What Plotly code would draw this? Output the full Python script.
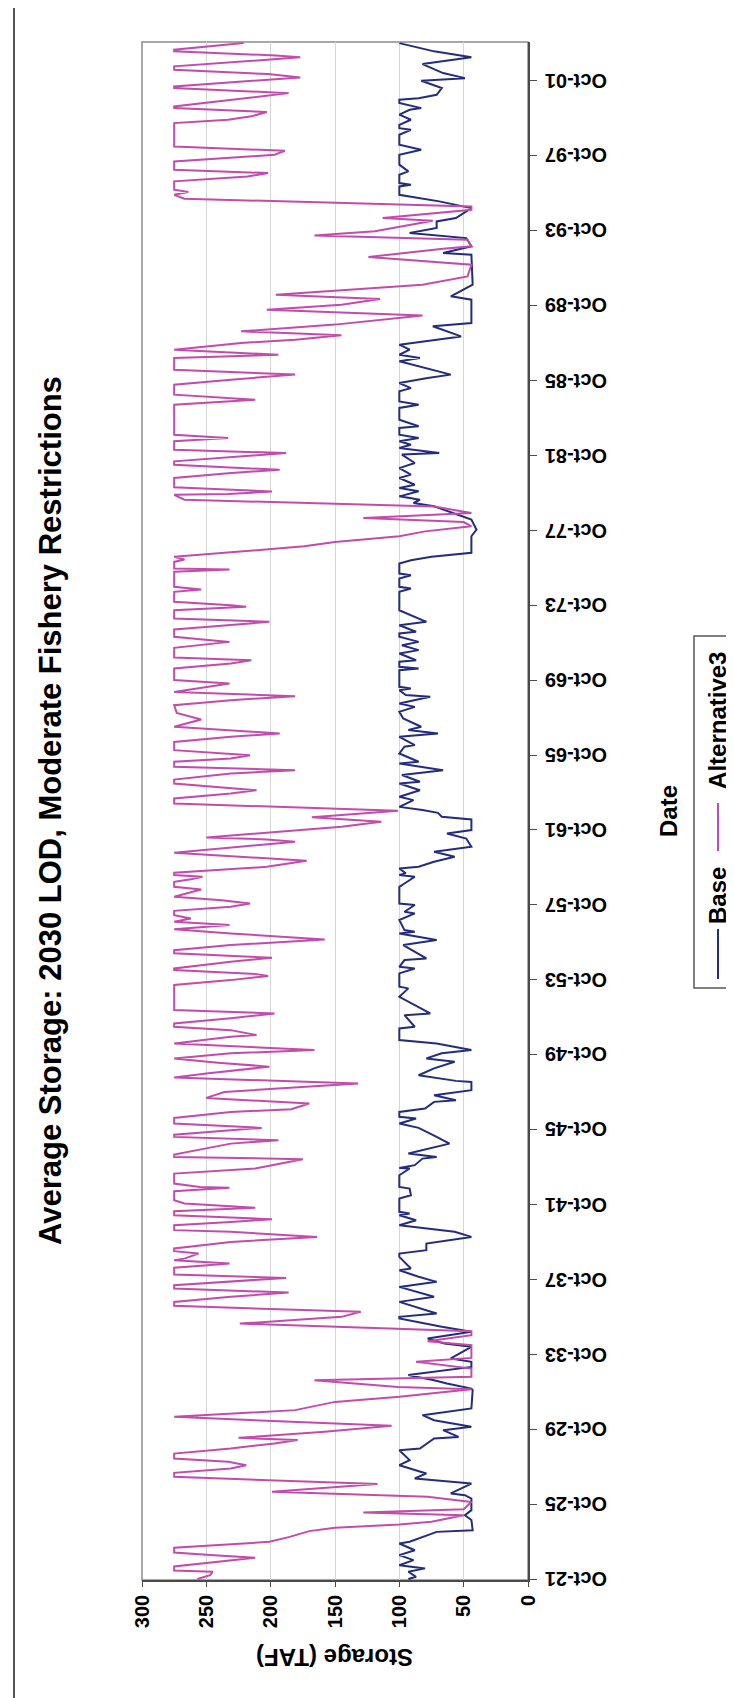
import plotly.graph_objects as go

# ---------------- data (decimal year, storage TAF) ----------------
base_t = [1921.75, 1921.87, 1922.14, 1922.32, 1922.49, 1922.76, 1923.03, 1923.29, 1923.65, 1923.74,
          1924.27, 1924.36, 1924.90, 1925.16, 1925.43, 1926.05, 1926.23, 1926.32, 1926.85, 1927.12,
          1927.39, 1927.83, 1928.10, 1928.63, 1928.72, 1929.26, 1929.34, 1929.70, 1929.88, 1930.23,
          1930.50, 1930.86, 1931.84, 1931.92, 1932.19, 1932.37, 1932.64, 1933.08, 1933.35, 1933.53,
          1934.15, 1934.33, 1934.59, 1934.95, 1935.22, 1935.66, 1935.75, 1935.93, 1936.55, 1936.82,
          1937.35, 1937.62, 1937.89, 1938.24, 1938.33, 1938.95, 1939.13, 1939.31, 1939.66, 1940.02,
          1940.29, 1940.47, 1940.64, 1940.91, 1941.18, 1941.27, 1941.36, 1942.07, 1942.24, 1942.60,
          1942.69, 1943.31, 1943.67, 1943.70, 1943.85, 1944.20, 1944.29, 1944.47, 1945.00, 1945.36,
          1945.84, 1946.07, 1946.34, 1946.43, 1946.69, 1946.87, 1947.23, 1947.32, 1947.58, 1947.85,
          1948.29, 1948.35, 1948.65, 1949.02, 1949.37, 1949.55, 1949.82, 1950.00, 1950.35, 1950.53,
          1951.15, 1951.24, 1951.86, 1951.95, 1952.84, 1953.29, 1953.38, 1954.09, 1954.35, 1954.44,
          1954.80, 1954.89, 1955.60, 1955.87, 1956.22, 1956.31, 1956.40, 1956.94, 1957.29, 1957.38,
          1957.74, 1957.82, 1958.71, 1958.89, 1959.25, 1959.34, 1959.43, 1959.69, 1959.78, 1960.05,
          1960.32, 1960.58, 1960.85, 1961.29, 1961.56, 1961.74, 1962.31, 1962.45, 1962.66, 1962.81,
          1962.98, 1963.34, 1963.52, 1963.87, 1964.23, 1964.32, 1964.68, 1964.94, 1965.30, 1965.39,
          1965.83, 1966.19, 1966.28, 1966.72, 1966.90, 1967.08, 1967.26, 1967.70, 1968.06, 1968.32,
          1968.50, 1968.86, 1968.95, 1969.21, 1969.30, 1969.39, 1970.28, 1970.37, 1970.46, 1970.73,
          1970.81, 1971.17, 1971.35, 1971.61, 1971.79, 1972.06, 1972.24, 1972.33, 1972.68, 1972.86,
          1973.48, 1974.46, 1974.64, 1974.73, 1975.17, 1975.35, 1975.44, 1975.97, 1976.15, 1976.33,
          1976.55, 1977.43, 1977.78, 1978.32, 1979.03, 1979.21, 1979.38, 1979.56, 1979.83, 1980.01,
          1980.18, 1980.54, 1980.72, 1981.07, 1981.34, 1981.79, 1981.87, 1982.14, 1982.32, 1982.50,
          1982.68, 1982.85, 1983.21, 1983.30, 1983.65, 1984.28, 1984.45, 1984.63, 1985.17, 1985.34,
          1985.61, 1985.88, 1986.06, 1986.77, 1986.95, 1987.12, 1987.39, 1987.66, 1987.92, 1988.10,
          1988.64, 1988.81, 1990.06, 1990.24, 1990.86, 1991.93, 1992.46, 1992.55, 1992.91, 1993.35,
          1993.62, 1993.89, 1994.24, 1994.42, 1994.95, 1995.31, 1995.66, 1996.11, 1996.20, 1996.29,
          1996.73, 1996.91, 1997.27, 1997.80, 1998.07, 1998.33, 1998.87, 1999.13, 1999.22, 1999.40,
          1999.67, 1999.94, 2000.20, 2000.29, 2000.56, 2000.74, 2000.82, 2001.00, 2001.36, 2001.75,
          2001.89, 2002.16, 2002.64, 2003.00, 2003.32, 2003.76]
base_v = [93, 87, 93, 80, 100, 89, 100, 88, 100, 92,
          71, 43, 44, 49, 44, 44, 49, 60, 44, 88,
          79, 100, 92, 100, 84, 73, 54, 66, 44, 73,
          82, 44, 43, 44, 63, 73, 93, 44, 44, 60,
          44, 65, 78, 44, 67, 100, 100, 71, 100, 73,
          100, 71, 85, 100, 91, 100, 100, 79, 79, 44,
          57, 79, 100, 87, 100, 92, 100, 100, 91, 92,
          100, 100, 92, 100, 88, 82, 71, 93, 61, 71,
          85, 100, 87, 100, 100, 80, 73, 56, 73, 44,
          44, 56, 85, 73, 57, 79, 67, 44, 71, 100,
          100, 88, 96, 76, 100, 93, 100, 100, 88, 100,
          96, 79, 97, 71, 100, 88, 96, 100, 88, 96,
          88, 100, 100, 96, 88, 100, 95, 100, 85, 73,
          57, 73, 44, 48, 63, 44, 44, 67, 70, 82,
          100, 89, 100, 84, 100, 84, 98, 66, 100, 85,
          100, 96, 88, 100, 70, 93, 83, 97, 100, 88,
          100, 76, 95, 100, 91, 100, 100, 85, 100, 100,
          87, 100, 85, 98, 85, 100, 100, 87, 100, 79,
          100, 100, 91, 100, 100, 91, 100, 100, 91, 75,
          44, 44, 40, 44, 73, 89, 84, 100, 85, 100,
          88, 100, 91, 100, 88, 98, 69, 100, 91, 100,
          85, 100, 100, 85, 100, 100, 85, 100, 100, 91,
          100, 78, 60, 100, 84, 100, 92, 100, 73, 52,
          74, 44, 44, 60, 43, 44, 44, 66, 44, 48,
          92, 71, 71, 56, 44, 69, 100, 100, 91, 100,
          100, 93, 100, 100, 83, 100, 100, 91, 100, 100,
          91, 100, 92, 83, 100, 100, 85, 71, 67, 83,
          49, 66, 82, 44, 73, 100]

alt3_t = [1921.75, 1921.96, 1922.14, 1922.21, 1922.42, 1922.71, 1922.89, 1923.03, 1923.17, 1923.42,
          1923.74, 1923.99, 1924.31, 1924.49, 1924.66, 1924.81, 1925.16, 1925.31, 1925.48, 1925.87,
          1926.14, 1926.41, 1926.82, 1927.21, 1927.42, 1927.65, 1927.83, 1928.01, 1928.19, 1928.45,
          1928.72, 1928.99, 1929.17, 1929.29, 1929.61, 1929.93, 1930.41, 1930.77, 1931.21, 1931.48,
          1931.89, 1932.01, 1932.37, 1932.55, 1932.99, 1933.35, 1933.56, 1934.24, 1934.45, 1934.77,
          1934.98, 1935.39, 1935.75, 1936.02, 1936.34, 1936.55, 1936.82, 1937.05, 1937.26, 1937.44,
          1937.62, 1937.83, 1938.01, 1938.37, 1938.51, 1938.60, 1938.77, 1938.86, 1939.13, 1939.26,
          1939.40, 1939.75, 1940.02, 1940.29, 1940.38, 1940.64, 1940.82, 1940.96, 1941.18, 1941.39,
          1941.57, 1941.80, 1941.98, 1942.46, 1942.65, 1942.69, 1942.87, 1943.40, 1943.67, 1944.17,
          1944.29, 1944.42, 1945.00, 1945.18, 1945.36, 1945.48, 1945.71, 1945.84, 1946.07, 1946.37,
          1946.69, 1946.84, 1947.14, 1947.44, 1947.76, 1948.21, 1948.53, 1948.74, 1949.11, 1949.32,
          1949.55, 1949.82, 1950.00, 1950.21, 1950.35, 1950.71, 1950.80, 1951.06, 1951.24, 1951.42,
          1951.69, 1951.95, 1952.13, 1953.47, 1953.73, 1953.95, 1954.05, 1954.27, 1954.35, 1954.71,
          1954.92, 1955.16, 1955.33, 1955.60, 1955.90, 1956.22, 1956.44, 1956.67, 1956.85, 1957.02,
          1957.20, 1957.43, 1957.65, 1957.82, 1958.00, 1958.18, 1958.57, 1958.71, 1958.98, 1959.11,
          1959.25, 1959.34, 1959.46, 1959.78, 1960.10, 1960.53, 1961.12, 1961.24, 1961.35, 1961.92,
          1962.18, 1962.42, 1962.77, 1963.16, 1963.43, 1963.70, 1963.87, 1964.23, 1964.44, 1964.76,
          1964.94, 1965.12, 1965.39, 1965.56, 1965.74, 1966.01, 1966.45, 1966.72, 1966.90, 1967.26,
          1967.65, 1968.00, 1968.41, 1968.68, 1968.89, 1969.12, 1969.57, 1969.75, 1970.37, 1970.64,
          1970.81, 1970.96, 1971.47, 1971.79, 1972.06, 1972.45, 1972.68, 1972.86, 1973.04, 1973.48,
          1973.66, 1973.75, 1973.93, 1974.46, 1974.59, 1974.73, 1975.53, 1975.65, 1975.71, 1976.06,
          1976.19, 1976.33, 1976.89, 1977.12, 1977.43, 1977.69, 1977.96, 1978.19, 1978.40, 1978.67,
          1979.02, 1979.38, 1979.64, 1979.68, 1979.82, 1980.04, 1980.54, 1980.80, 1980.98, 1981.25,
          1981.43, 1981.65, 1981.87, 1982.05, 1982.50, 1982.68, 1982.85, 1984.45, 1984.63, 1984.72,
          1984.99, 1985.52, 1985.79, 1986.06, 1986.32, 1986.95, 1987.12, 1987.39, 1987.75, 1987.92,
          1988.16, 1988.37, 1988.73, 1989.22, 1989.53, 1989.79, 1990.10, 1990.33, 1990.86, 1991.30,
          1991.93, 1992.34, 1992.78, 1992.91, 1993.26, 1993.49, 1993.71, 1994.28, 1994.42, 1994.86,
          1995.04, 1995.45, 1995.66, 1995.81, 1995.93, 1996.38, 1996.64, 1996.82, 1997.00, 1997.44,
          1997.80, 1998.01, 1998.24, 1999.49, 1999.67, 1999.85, 2000.08, 2000.29, 2000.38, 2000.74,
          2001.09, 2001.36, 2001.45, 2001.93, 2002.11, 2002.34, 2002.52, 2003.00, 2003.10, 2003.32,
          2003.41, 2003.76]
alt3_v = [257, 247, 245, 275, 275, 233, 212, 247, 275, 275,
          201, 186, 170, 150, 100, 75, 50, 128, 50, 44,
          78, 199, 117, 275, 275, 231, 219, 233, 275, 275,
          231, 197, 179, 225, 158, 106, 275, 181, 150, 100,
          44, 101, 166, 44, 44, 87, 44, 44, 78, 44,
          44, 224, 145, 130, 275, 275, 231, 186, 275, 275,
          231, 188, 275, 275, 249, 232, 275, 267, 256, 275,
          275, 231, 164, 231, 275, 275, 231, 199, 275, 275,
          212, 267, 275, 275, 232, 255, 275, 275, 212, 175,
          275, 275, 231, 194, 275, 275, 231, 207, 275, 275,
          231, 184, 170, 250, 236, 132, 275, 250, 201, 241,
          275, 231, 166, 231, 275, 231, 211, 231, 275, 275,
          231, 197, 275, 275, 231, 202, 211, 275, 275, 231,
          199, 275, 275, 231, 158, 231, 275, 232, 275, 262,
          275, 275, 231, 216, 238, 275, 254, 275, 275, 262,
          253, 275, 275, 203, 172, 275, 181, 203, 250, 145,
          114, 168, 101, 275, 275, 231, 211, 275, 275, 231,
          181, 275, 275, 231, 216, 275, 275, 231, 193, 275,
          254, 273, 275, 231, 181, 275, 232, 275, 275, 231,
          215, 275, 275, 232, 275, 275, 231, 201, 275, 275,
          219, 231, 275, 275, 254, 275, 275, 232, 275, 275,
          267, 275, 174, 150, 100, 80, 44, 50, 128, 44,
          73, 267, 275, 233, 199, 275, 275, 233, 193, 275,
          275, 231, 188, 275, 275, 233, 275, 275, 233, 212,
          275, 275, 231, 181, 275, 275, 194, 275, 223, 181,
          145, 223, 150, 82, 203, 145, 115, 196, 82, 47,
          44, 124, 66, 44, 47, 166, 119, 74, 113, 44,
          44, 267, 275, 264, 275, 275, 218, 202, 275, 275,
          197, 189, 275, 275, 233, 215, 203, 275, 275, 228,
          186, 275, 275, 177, 202, 275, 275, 177, 196, 275,
          275, 221]

date_tick_vals = [1921.75, 1925.75, 1929.75, 1933.75, 1937.75, 1941.75, 1945.75, 1949.75, 1953.75,
                  1957.75, 1961.75, 1965.75, 1969.75, 1973.75, 1977.75, 1981.75, 1985.75, 1989.75,
                  1993.75, 1997.75, 2001.75]
date_tick_text = ["Oct-21", "Oct-25", "Oct-29", "Oct-33", "Oct-37", "Oct-41", "Oct-45", "Oct-49",
                  "Oct-53", "Oct-57", "Oct-61", "Oct-65", "Oct-69", "Oct-73", "Oct-77", "Oct-81",
                  "Oct-85", "Oct-89", "Oct-93", "Oct-97", "Oct-01"]
storage_ticks = [0, 50, 100, 150, 200, 250, 300]
series_names = ["Base", "Alternative3"]

# ---------------- styles ----------------
FONT = "Liberation Sans, Arial, sans-serif"
NAVY = "#232C7E"
MAGENTA = "#C24CAB"
AXIS = "#4a4a4a"

fig = go.Figure()
fig.add_trace(go.Scatter(x=base_v, y=base_t, mode="lines", name=series_names[0],
                         line=dict(color=NAVY, width=2)))
fig.add_trace(go.Scatter(x=alt3_v, y=alt3_t, mode="lines", name=series_names[1],
                         line=dict(color=MAGENTA, width=2)))

fig.update_layout(
    width=734, height=1698,
    margin=dict(l=134, r=214, t=34, b=126),
    paper_bgcolor="white", plot_bgcolor="white",
    showlegend=False,
    font=dict(family=FONT, color="black"),
    xaxis=dict(range=[300, 0], tickvals=storage_ticks, ticks="outside", ticklen=5,
               tickcolor=AXIS, tickangle=-90, showline=True, linecolor=AXIS, linewidth=1.5,
               showgrid=True, gridcolor="#d6d6d6", gridwidth=1, zeroline=False,
               tickfont=dict(family=FONT, size=20, weight="bold", color="black")),
    yaxis=dict(range=[1921.70, 2003.82], side="right", tickvals=date_tick_vals,
               showticklabels=False, ticks="outside", ticklen=7, tickcolor=AXIS,
               showline=True, linecolor=AXIS, linewidth=1.5, showgrid=False, zeroline=False),
)

shapes = [
    # plot area border (gray)
    dict(type="rect", xref="paper", yref="paper", x0=0, y0=0, x1=1, y1=1,
         line=dict(color="#8c8c8c", width=1.5), layer="below"),
    # outer chart border (left and bottom visible)
    dict(type="line", xref="paper", yref="paper", x0=-0.3316, x1=-0.3316, y0=-0.0800, y1=1.05,
         line=dict(color="#555555", width=2)),
    dict(type="line", xref="paper", yref="paper", x0=-0.3316, x1=1.6, y0=-0.0800, y1=-0.0800,
         line=dict(color="#555555", width=2)),
    # legend box
    dict(type="rect", xref="paper", yref="paper", x0=1.4301, x1=1.5492, y0=0.3849, y1=0.6138,
         line=dict(color="#555555", width=1.5), fillcolor="white"),
    dict(type="line", xref="paper", yref="paper", x0=1.4922, x1=1.4922, y0=0.3908, y1=0.4233,
         line=dict(color=NAVY, width=2)),
    dict(type="line", xref="paper", yref="paper", x0=1.4922, x1=1.4922, y0=0.4740, y1=0.5052,
         line=dict(color=MAGENTA, width=2)),
]

annotations = []
for v, t in zip(date_tick_vals, date_tick_text):
    annotations.append(dict(x=1, xref="paper", y=v, yref="y", text=t, textangle=180,
                            xanchor="left", yanchor="middle", xshift=15, showarrow=False,
                            font=dict(family=FONT, size=20, weight="bold", color="black")))
annotations += [
    dict(x=0.5, xref="paper", y=0, yref="paper", yshift=-78, text="Storage (TAF)",
         textangle=180, xanchor="center", yanchor="middle", showarrow=False,
         font=dict(family=FONT, size=24, weight="bold", color="black")),
    dict(x=1, xref="paper", y=0.5, yref="paper", xshift=140, text="Date", textangle=-90,
         xanchor="center", yanchor="middle", showarrow=False,
         font=dict(family=FONT, size=24, weight="bold", color="black")),
    dict(x=0, xref="paper", y=0.5, yref="paper", xshift=-92,
         text="Average Storage: 2030 LOD, Moderate Fishery Restrictions", textangle=-90,
         xanchor="center", yanchor="middle", showarrow=False,
         font=dict(family=FONT, size=31, weight="bold", color="black")),
    dict(x=1.4922, xref="paper", y=0.4454, yref="paper", text=series_names[0], textangle=-90,
         xanchor="center", yanchor="middle", showarrow=False,
         font=dict(family=FONT, size=24, weight="bold", color="black")),
    dict(x=1.4922, xref="paper", y=0.5592, yref="paper", text=series_names[1], textangle=-90,
         xanchor="center", yanchor="middle", showarrow=False,
         font=dict(family=FONT, size=24, weight="bold", color="black")),
]

fig.update_layout(shapes=shapes, annotations=annotations)
fig.write_html("out.html")
